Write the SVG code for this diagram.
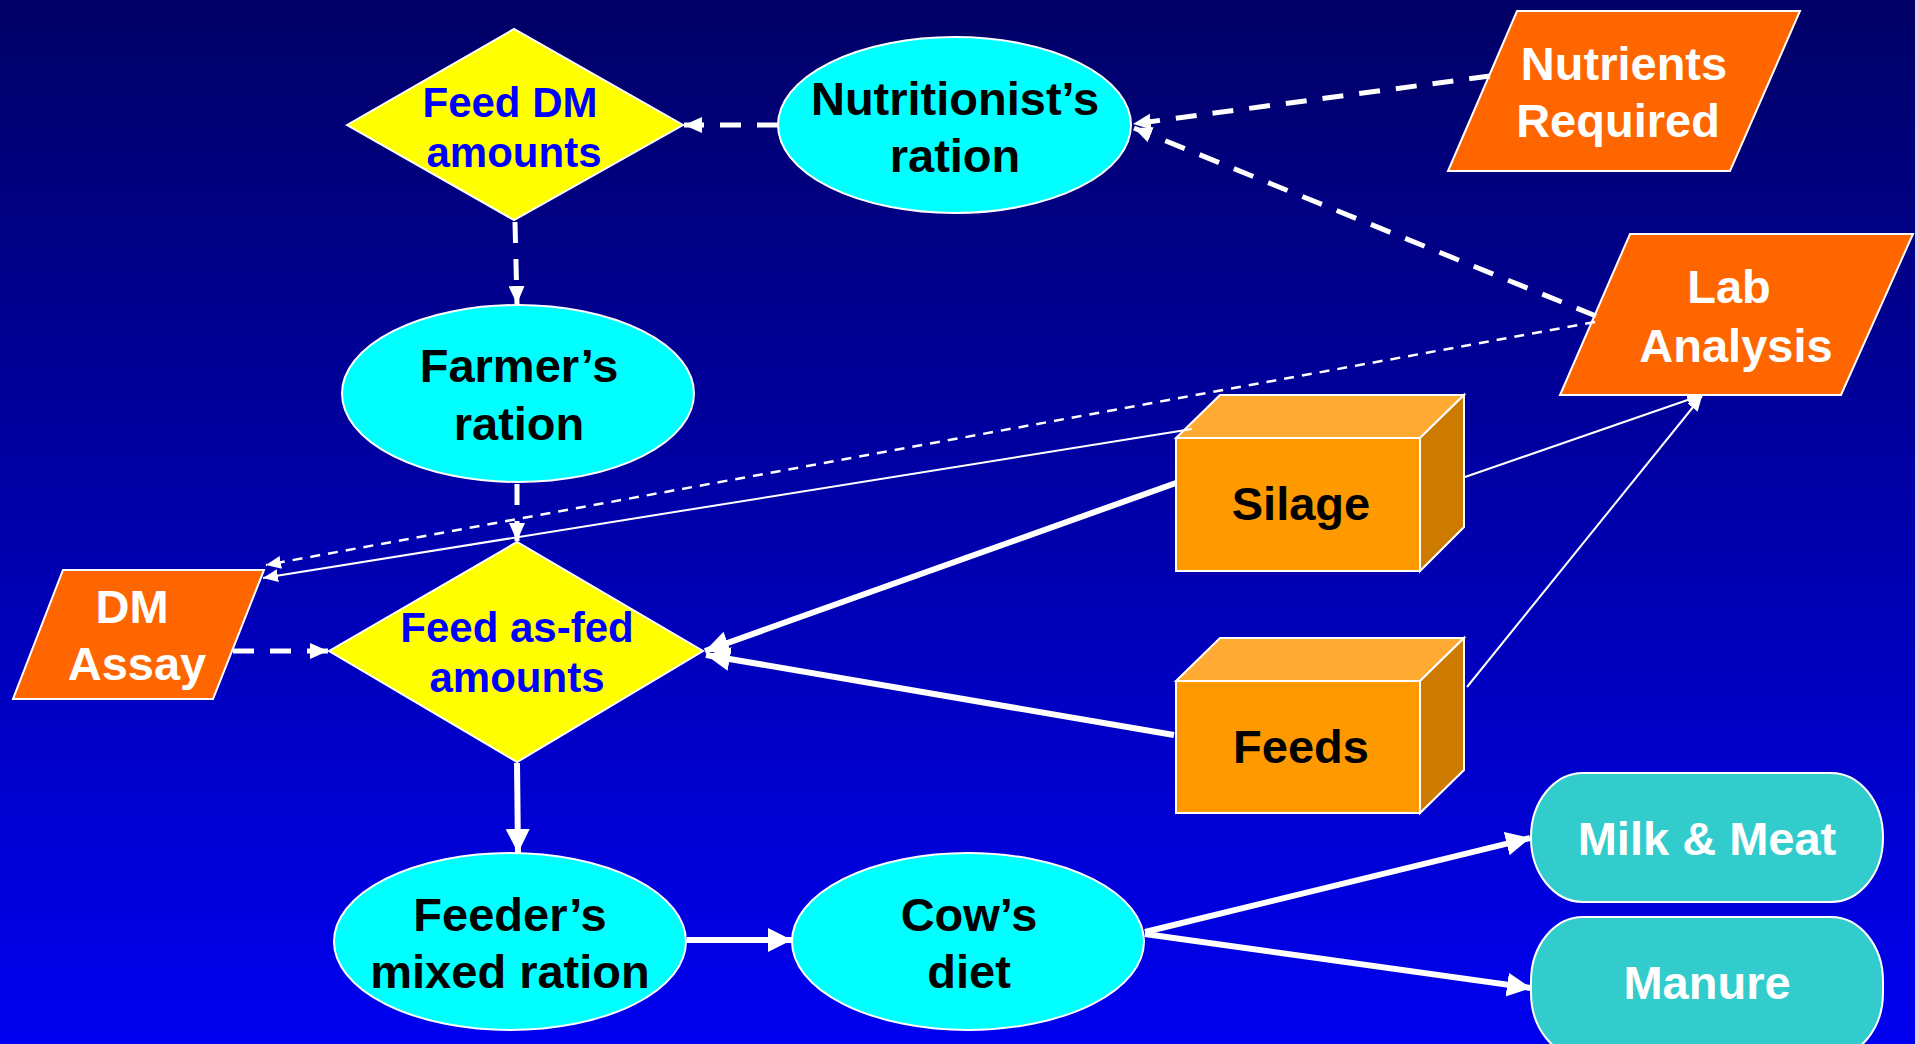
<svg xmlns="http://www.w3.org/2000/svg" width="1918" height="1044" viewBox="0 0 1918 1044">
<defs>
<linearGradient id="bg" x1="0" y1="0" x2="0" y2="1">
<stop offset="0" stop-color="#000066"/>
<stop offset="1" stop-color="#0000F0"/>
</linearGradient>
<marker id="aBig" markerUnits="userSpaceOnUse" markerWidth="26" markerHeight="26" refX="24" refY="12" orient="auto">
<path d="M0,0 L24,12 L0,24 Z" fill="#fff"/>
</marker>
<marker id="aMed" markerUnits="userSpaceOnUse" markerWidth="20" markerHeight="18" refX="18" refY="8" orient="auto">
<path d="M0,0 L18,8 L0,16 Z" fill="#fff"/>
</marker>
<marker id="aSm" markerUnits="userSpaceOnUse" markerWidth="16" markerHeight="14" refX="15" refY="6.5" orient="auto">
<path d="M0,0 L15,6.5 L0,13 Z" fill="#fff"/>
</marker>
</defs>
<style>
.t{font-family:"Liberation Sans",Arial,sans-serif;font-weight:bold;text-anchor:middle}
.blk{fill:#000;font-size:47px}
.wht{fill:#fff;font-size:47px}
.blu{fill:#0000FF;font-size:42px}
.ell{fill:#00FFFF;stroke:#fff;stroke-width:2}
.dia{fill:#FFFF00;stroke:#fff;stroke-width:2}
.par{fill:#FF6600;stroke:#fff;stroke-width:2}
.term{fill:#33CCCC;stroke:#fff;stroke-width:2}
.bf{fill:#FF9900;stroke:#fff;stroke-width:2}
.bt{fill:#FFAA33;stroke:#fff;stroke-width:2}
.br{fill:#CC7A00;stroke:#fff;stroke-width:2}
.thick{stroke:#fff;stroke-width:6;fill:none;marker-end:url(#aBig)}
.dash{stroke:#fff;stroke-width:5;fill:none;stroke-dasharray:21 16;marker-end:url(#aMed)}
.tdash{stroke:#fff;stroke-width:2.5;fill:none;stroke-dasharray:10 8;marker-end:url(#aSm)}
.thin{stroke:#fff;stroke-width:2;fill:none;marker-end:url(#aSm)}
</style>
<rect width="1918" height="1044" fill="url(#bg)"/>
<rect x="1915" y="0" width="3" height="1044" fill="#d8d8f0"/>

<g id="feed-dm">
<polygon class="dia" points="347,125 514,29 683,125 514,220"/>
<text class="t blu" x="510" y="117">Feed DM</text>
<text class="t blu" x="514" y="167">amounts</text>
</g>
<g id="nutritionist">
<ellipse class="ell" cx="954.5" cy="125" rx="176.5" ry="88"/>
<text class="t blk" x="955" y="115">Nutritionist’s</text>
<text class="t blk" x="955" y="172">ration</text>
</g>
<g id="nutrients">
<polygon class="par" points="1517,11 1800,11 1730,171 1448,171"/>
<text class="t wht" x="1624" y="80">Nutrients</text>
<text class="t wht" x="1618" y="137">Required</text>
</g>
<g id="lab">
<polygon class="par" points="1630,234 1913,234 1841,395 1560,395"/>
<text class="t wht" x="1729" y="303">Lab</text>
<text class="t wht" x="1736" y="362">Analysis</text>
</g>
<g id="farmer">
<ellipse class="ell" cx="518" cy="393.5" rx="176" ry="88.5"/>
<text class="t blk" x="519" y="382">Farmer’s</text>
<text class="t blk" x="519" y="440">ration</text>
</g>
<g id="dm-assay">
<polygon class="par" points="63,570 264,570 213,699 13,699"/>
<text class="t wht" x="132" y="623">DM</text>
<text class="t wht" x="137" y="680">Assay</text>
</g>
<g id="feed-asfed">
<polygon class="dia" points="329,651 517,542 703,651 517,762"/>
<text class="t blu" x="517" y="642">Feed as-fed</text>
<text class="t blu" x="517" y="692">amounts</text>
</g>
<g id="silage">
<polygon class="bt" points="1176,438 1220,395 1464,395 1420,438"/>
<polygon class="br" points="1420,438 1464,395 1464,527 1420,571"/>
<rect class="bf" x="1176" y="438" width="244" height="133"/>
<text class="t blk" x="1301" y="520">Silage</text>
</g>
<g id="feeds">
<polygon class="bt" points="1176,681 1220,638 1464,638 1420,681"/>
<polygon class="br" points="1420,681 1464,638 1464,770 1420,813"/>
<rect class="bf" x="1176" y="681" width="244" height="132"/>
<text class="t blk" x="1301" y="763">Feeds</text>
</g>
<g id="feeder">
<ellipse class="ell" cx="510" cy="941.5" rx="176" ry="88.5"/>
<text class="t blk" x="510" y="931">Feeder’s</text>
<text class="t blk" x="510" y="988">mixed ration</text>
</g>
<g id="cow">
<ellipse class="ell" cx="968" cy="941.5" rx="176" ry="88.5"/>
<text class="t blk" x="969" y="931">Cow’s</text>
<text class="t blk" x="969" y="988">diet</text>
</g>
<g id="milk-meat">
<rect class="term" x="1531" y="773" width="352" height="129" rx="52" ry="64"/>
<text class="t wht" x="1707" y="855">Milk &amp; Meat</text>
</g>
<g id="manure">
<rect class="term" x="1531" y="917" width="352" height="140" rx="52" ry="64"/>
<text class="t wht" x="1707" y="999">Manure</text>
</g>

<g id="connectors">
<line class="dash" x1="778" y1="125" x2="684" y2="125"/>
<line class="dash" x1="515" y1="222" x2="517" y2="304"/>
<line class="dash" x1="517" y1="484" x2="517" y2="541"/>
<line class="dash" x1="1490" y1="76" x2="1133" y2="124"/>
<line class="dash" x1="1596" y1="316" x2="1134" y2="128"/>
<line class="tdash" x1="1595" y1="322" x2="266" y2="565"/>
<line class="thin" x1="1192" y1="429" x2="263" y2="578"/>
<line class="dash" x1="233" y1="651" x2="328" y2="651"/>
<line class="thick" x1="1176" y1="483" x2="705" y2="651"/>
<line class="thick" x1="1174" y1="735" x2="706" y2="655"/>
<line class="thin" x1="1465" y1="477" x2="1702" y2="395"/>
<line class="thin" x1="1467" y1="687" x2="1702" y2="396"/>
<line class="thick" x1="517" y1="763" x2="518" y2="853"/>
<line class="thick" x1="687" y1="940" x2="792" y2="940"/>
<line class="thick" x1="1145" y1="932" x2="1530" y2="838"/>
<line class="thick" x1="1145" y1="934" x2="1531" y2="988"/>
</g>
</svg>
